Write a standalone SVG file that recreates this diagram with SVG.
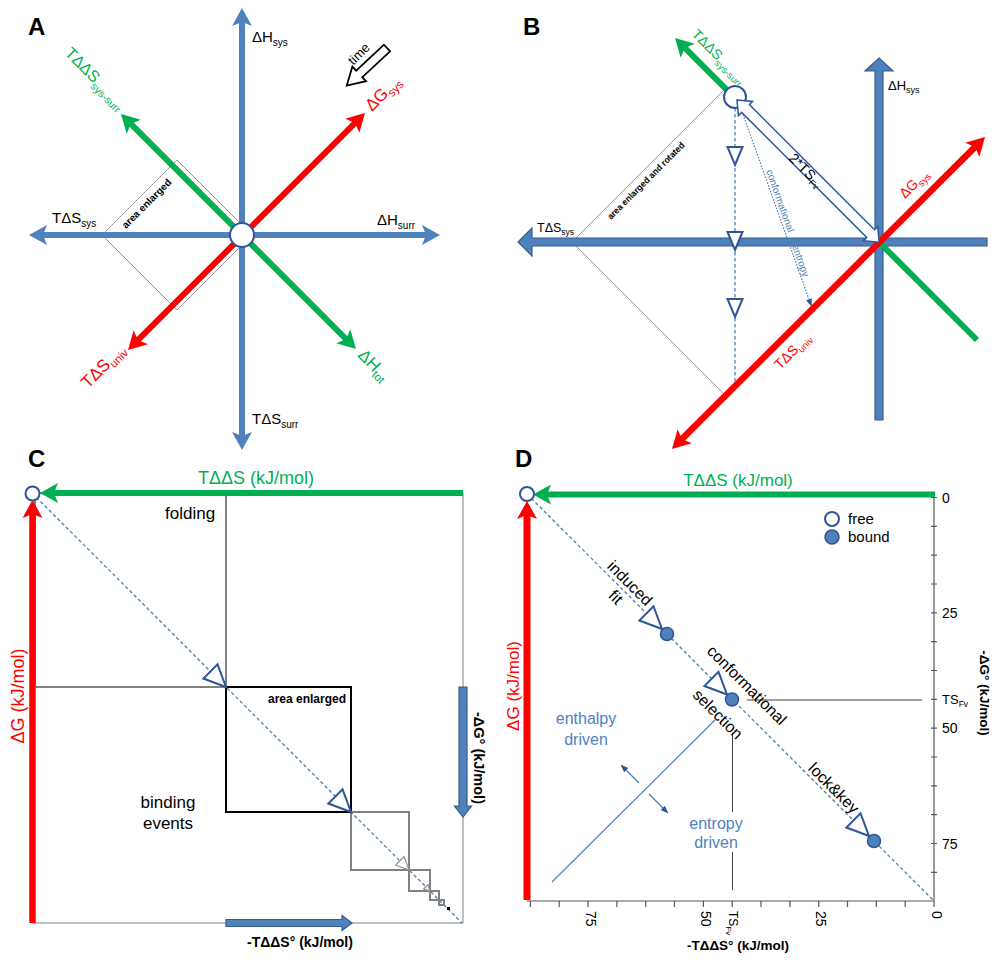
<svg xmlns="http://www.w3.org/2000/svg" width="1000" height="965" viewBox="0 0 1000 965">
<defs>
<style>
text{font-family:"Liberation Sans",Arial,sans-serif;fill:#000}
.lbl{font-size:24px;font-weight:bold}
.bold{font-weight:bold}
.gt{fill:#00B050}
.rt{fill:#FF0000}
.bt{fill:#4F81BD}
.frame{fill:none;stroke:#808080;stroke-width:1}
.thin{fill:none;stroke:#808080;stroke-width:0.8}
.dash{fill:none;stroke:#4A7EBB;stroke-width:1.3;stroke-dasharray:3.5 2.5}
.tri{fill:#fff;stroke:#2F5597;stroke-width:2;stroke-linejoin:miter}
.trig{fill:#fff;stroke:#909090;stroke-width:1.2}
.circ{fill:#fff;stroke:#2F5597;stroke-width:2}
.bound{fill:#4F81BD;stroke:#2F5597;stroke-width:1.5}
.blk{fill:#4F81BD;stroke:#385D8A;stroke-width:1.2}
.grect{fill:none;stroke:#808080;stroke-width:2}
.axl{fill:none;stroke:#595959;stroke-width:1.2}
.bline{fill:none;stroke:#4F81BD;stroke-width:1.2}
</style>
<marker id="mb" viewBox="0 -11 20 22" markerWidth="20" markerHeight="22" refX="4" refY="0" orient="auto-start-reverse" markerUnits="userSpaceOnUse"><path d="M0,-10 L18,0 L0,10 L4,0 Z" fill="#4F81BD"/></marker>
<marker id="mg" viewBox="0 -11 20 22" markerWidth="20" markerHeight="22" refX="4" refY="0" orient="auto-start-reverse" markerUnits="userSpaceOnUse"><path d="M0,-10 L18,0 L0,10 L4,0 Z" fill="#00B050"/></marker>
<marker id="mr" viewBox="0 -11 20 22" markerWidth="20" markerHeight="22" refX="4" refY="0" orient="auto-start-reverse" markerUnits="userSpaceOnUse"><path d="M0,-10 L18,0 L0,10 L4,0 Z" fill="#FF0000"/></marker>
<marker id="ms" viewBox="0 -4 8 8" markerWidth="8" markerHeight="8" refX="6" refY="0" orient="auto" markerUnits="userSpaceOnUse"><path d="M0,-3 L8,0 L0,3 Z" fill="#2F5597"/></marker>
<polygon id="triL" points="0,0 -22,-10 -22,10"/>
<polygon id="triV" points="0,0 -18,-7.5 -18,7.5"/>
<polygon id="triM" points="0,0 -13,-6 -13,6"/>
<polygon id="triS" points="0,0 -6,-3 -6,3"/>
</defs>
<rect width="1000" height="965" fill="#fff"/>

<g id="panelA">
<text class="lbl" x="28" y="35">A</text>
<polygon class="thin" points="102,235 177,160 252,235 177,310"/>
<g id="connectorsA">
<line x1="355.1" y1="122.9" x2="137.9" y2="340.1" stroke="#FF0000" stroke-width="6" marker-start="url(#mr)" marker-end="url(#mr)"/>
<line x1="130.9" y1="123.9" x2="346.1" y2="339.1" stroke="#00B050" stroke-width="6" marker-start="url(#mg)" marker-end="url(#mg)"/>
<line x1="43" y1="235" x2="426" y2="235" stroke="#4F81BD" stroke-width="6" marker-start="url(#mb)" marker-end="url(#mb)"/>
<line x1="242" y1="22" x2="242" y2="436" stroke="#4F81BD" stroke-width="6" marker-start="url(#mb)" marker-end="url(#mb)"/>
</g>
<circle id="nodeA" cx="242" cy="235" r="12" class="circ"/>
<polygon points="0,-4.5 38,-4.5 38,-10 55,0 38,10 38,4.5 0,4.5" transform="translate(387,48) rotate(137)" fill="#fff" stroke="#000" stroke-width="1.8"/>
<text font-size="13" text-anchor="middle" transform="translate(362,57) rotate(-45)">time</text>
<text x="252" y="42" font-size="15">ΔH<tspan font-size="10" dy="4">sys</tspan></text>
<text x="52" y="223" font-size="15">TΔS<tspan font-size="10" dy="4">sys</tspan></text>
<text x="377" y="225" font-size="15">ΔH<tspan font-size="10" dy="4">surr</tspan></text>
<text x="252" y="424" font-size="15">TΔS<tspan font-size="10" dy="4">surr</tspan></text>
<text class="gt" font-size="16" transform="translate(64,54) rotate(45)">TΔΔS<tspan font-size="10.5" dy="5">sys-surr</tspan></text>
<text class="rt" font-size="17" transform="translate(372,112) rotate(-45)">ΔG<tspan font-size="11.5" dy="4">sys</tspan></text>
<text class="rt" font-size="17" transform="translate(88,389) rotate(-45)">TΔS<tspan font-size="11.5" dy="4">univ</tspan></text>
<text class="gt" font-size="17" transform="translate(357,356) rotate(45)">ΔH<tspan font-size="11.5" dy="4">tot</tspan></text>
<text class="bold" font-size="10" text-anchor="middle" transform="translate(149,206) rotate(-45)">area enlarged</text>
</g>

<g id="panelB">
<text class="lbl" x="523" y="35">B</text>
<polygon class="thin" points="572,242 726,88 880,242 726,396"/>
<g id="connectorsB">
<polygon class="blk" points="518,242 532,228 532,238 987,238 987,246 532,246 532,256"/>
<polygon class="blk" points="879,58 893,71 883,71 883,420 875,420 875,71 865,71"/>
<line x1="977" y1="340" x2="684.9" y2="47.9" stroke="#00B050" stroke-width="6" marker-end="url(#mg)"/>
<line x1="681.9" y1="439.1" x2="975.1" y2="146.9" stroke="#FF0000" stroke-width="6.5" marker-start="url(#mr)" marker-end="url(#mr)"/>
<line x1="735" y1="108" x2="735" y2="382" class="dash"/>
<line x1="740" y1="106" x2="811" y2="305" stroke="#4A7EBB" stroke-width="1.2" stroke-dasharray="1.5 1.5" marker-end="url(#ms)"/>
</g>
<use href="#triV" class="tri" transform="translate(735,165) rotate(90)"/>
<use href="#triV" class="tri" transform="translate(735,250) rotate(90)"/>
<use href="#triV" class="tri" transform="translate(735,317) rotate(90)"/>
<circle id="nodeB" cx="735" cy="97" r="11" class="circ"/>
<polygon points="0,0 12,-10 12,-5.5 189,-5.5 189,-10 201,0 189,10 189,5.5 12,5.5 12,10" transform="translate(737,100) rotate(45)" fill="#fff" stroke="#2F5597" stroke-width="1.5"/>
<text font-size="14" transform="translate(788,159) rotate(45)">2*TS<tspan font-size="9" dy="3">Fv</tspan></text>
<text class="bt" font-size="10" transform="translate(766,171) rotate(70.5)">conformational</text>
<text class="bt" font-size="10" transform="translate(792,246) rotate(70.5)">entropy</text>
<text x="888" y="90" font-size="13">ΔH<tspan font-size="9" dy="3">sys</tspan></text>
<text x="537" y="232" font-size="12.5">TΔS<tspan font-size="8.5" dy="3">sys</tspan></text>
<text class="gt" font-size="14" transform="translate(691,35) rotate(45)">TΔΔS<tspan font-size="9.5" dy="4">sys-surr</tspan></text>
<text class="rt" font-size="14" transform="translate(905,199) rotate(-45)">ΔG<tspan font-size="9.5" dy="3.5">sys</tspan></text>
<text class="rt" font-size="14" transform="translate(780,370) rotate(-45)">TΔS<tspan font-size="9.5" dy="3.5">univ</tspan></text>
<text class="bold" font-size="9" text-anchor="middle" textLength="105" lengthAdjust="spacingAndGlyphs" transform="translate(648,183) rotate(-45)">area enlarged and rotated</text>
</g>

<g id="panelC">
<text class="lbl" x="28" y="467">C</text>
<polyline class="frame" points="32,493 463,493 463,923 32,923"/>
<line x1="32" y1="493" x2="462" y2="923" class="dash"/>
<rect class="grect" x="35" y="493" width="191" height="194"/>
<rect x="226" y="687" width="125" height="125" fill="none" stroke="#000" stroke-width="2"/>
<rect class="grect" x="351" y="812" width="58" height="58"/>
<rect class="grect" x="409" y="870" width="21" height="21"/>
<rect class="grect" x="430" y="891" width="9" height="9" stroke-width="1.6"/>
<rect class="grect" x="439" y="900" width="5" height="5" stroke-width="1.4"/>
<rect x="447" y="907" width="3" height="3" fill="#000"/>
<use href="#triL" class="tri" transform="translate(226,687) rotate(45)"/>
<use href="#triL" class="tri" transform="translate(351,812) rotate(45)"/>
<use href="#triM" class="trig" transform="translate(409,870) rotate(45)"/>
<use href="#triS" class="trig" transform="translate(430,891) rotate(45)"/>
<g id="connectorsC">
<line x1="463" y1="493" x2="54" y2="493" stroke="#00B050" stroke-width="6" marker-end="url(#mg)"/>
<line x1="32.5" y1="923" x2="32.5" y2="514" stroke="#FF0000" stroke-width="6.5" marker-end="url(#mr)"/>
<polygon class="blk" points="459,687 467,687 467,806 471.5,806 463,817 454.5,806 459,806"/>
<polygon class="blk" points="226,919.5 342,919.5 342,915.5 352,923 342,930.5 342,926.5 226,926.5"/>
</g>
<circle id="nodeC" cx="32.5" cy="493.5" r="7" class="circ"/>
<text class="gt" x="198" y="484" font-size="18">TΔΔS (kJ/mol)</text>
<text x="165" y="519" font-size="17">folding</text>
<text class="bold" x="268" y="703" font-size="12">area enlarged</text>
<text x="168" y="808" font-size="17" text-anchor="middle">binding</text>
<text x="168" y="829" font-size="17" text-anchor="middle">events</text>
<text class="rt" font-size="18" text-anchor="middle" transform="translate(24,696) rotate(-90)">ΔG (kJ/mol)</text>
<text class="bold" font-size="14.5" text-anchor="middle" transform="translate(474,758) rotate(90)">-ΔG° (kJ/mol)</text>
<text class="bold" font-size="14" x="247" y="947">-TΔΔS° (kJ/mol)</text>
</g>

<g id="panelD">
<text class="lbl" x="515" y="467">D</text>
<polyline class="axl" points="934,494 934,901 527,901"/>
<path class="axl" stroke-width="1" d="M931,497.5h6M931,526.3h6M931,555.2h6M931,584h6M931,612.8h6M931,641.7h6M931,670.5h6M931,699.3h6M931,728.1h6M931,757h6M931,785.8h6M931,814.6h6M931,843.5h6M931,872.3h6
M934,901v6M905.2,901v6M876.3,901v6M847.5,901v6M818.7,901v6M789.9,901v6M761,901v6M732.2,901v6M703.4,901v6M674.5,901v6M645.7,901v6M616.9,901v6M588,901v6M559.2,901v6M530.4,901v6"/>
<text x="942" y="502.5" font-size="14">0</text>
<text x="942" y="618" font-size="14">25</text>
<text x="942" y="704" font-size="13">TS<tspan font-size="8.5" dy="3">Fv</tspan></text>
<text x="942" y="733" font-size="14">50</text>
<text x="942" y="848.5" font-size="14">75</text>
<text font-size="14" transform="translate(931.5,911) rotate(90)">0</text>
<text font-size="14" transform="translate(816.2,911) rotate(90)">25</text>
<text font-size="14" transform="translate(700.9,911) rotate(90)">50</text>
<text font-size="14" transform="translate(585.5,911) rotate(90)">75</text>
<text font-size="12" transform="translate(728.5,911) rotate(90)">TS<tspan font-size="8" dy="3">Fv</tspan></text>
<line x1="527" y1="494" x2="934" y2="901" class="dash"/>
<line x1="747" y1="700" x2="922" y2="700" stroke="#404040" stroke-width="1"/>
<line x1="732.5" y1="733" x2="732.5" y2="812" stroke="#404040" stroke-width="1"/>
<line x1="732.5" y1="852" x2="732.5" y2="890" stroke="#404040" stroke-width="1"/>
<line x1="552" y1="882" x2="715" y2="720" class="bline"/>
<line x1="639" y1="783" x2="622" y2="766" class="bline" marker-end="url(#ms)"/>
<line x1="649" y1="794" x2="667" y2="812" class="bline" marker-end="url(#ms)"/>
<g id="connectorsD">
<line x1="935" y1="494.5" x2="547" y2="494.5" stroke="#00B050" stroke-width="6" marker-end="url(#mg)"/>
<line x1="527" y1="900" x2="527" y2="515" stroke="#FF0000" stroke-width="7" marker-end="url(#mr)"/>
</g>
<use href="#triL" class="tri" transform="translate(662,629) rotate(45)"/>
<use href="#triL" class="tri" transform="translate(727,694.5) rotate(45)"/>
<use href="#triL" class="tri" transform="translate(869,836) rotate(45)"/>
<circle id="nodeFree" cx="527" cy="494" r="7" class="circ"/>
<circle id="nodeInduced" cx="667" cy="634" r="6.5" class="bound"/>
<circle id="nodeSelection" cx="732" cy="699.5" r="6.5" class="bound"/>
<circle id="nodeLock" cx="874" cy="841" r="6.5" class="bound"/>
<g id="legend">
<circle cx="832" cy="519" r="7" class="circ"/>
<circle cx="832" cy="537" r="7" class="bound"/>
<text x="848" y="524" font-size="15">free</text>
<text x="848" y="542" font-size="15">bound</text>
</g>
<text class="gt" x="738" y="486" font-size="17" text-anchor="middle">TΔΔS (kJ/mol)</text>
<text class="rt" font-size="17" text-anchor="middle" transform="translate(519,686) rotate(-90)">ΔG (kJ/mol)</text>
<text class="bold" font-size="13.5" text-anchor="middle" transform="translate(980,693) rotate(90)">-ΔG° (kJ/mol)</text>
<text class="bold" font-size="13.5" x="738" y="950" text-anchor="middle">-TΔΔS° (kJ/mol)</text>
<text font-size="16" text-anchor="middle" transform="translate(626,587) rotate(45)">induced</text>
<text font-size="16" text-anchor="middle" transform="translate(612,601) rotate(45)">fit</text>
<text font-size="16" text-anchor="middle" transform="translate(743,689) rotate(45)">conformational</text>
<text font-size="16" text-anchor="middle" transform="translate(714,718) rotate(45)">selection</text>
<text font-size="16" text-anchor="middle" transform="translate(830,792) rotate(45)">lock&amp;key</text>
<text class="bt" font-size="16" x="586" y="724" text-anchor="middle">enthalpy</text>
<text class="bt" font-size="16" x="586" y="745" text-anchor="middle">driven</text>
<text class="bt" font-size="16" x="716" y="829" text-anchor="middle">entropy</text>
<text class="bt" font-size="16" x="716" y="848" text-anchor="middle">driven</text>
</g>
</svg>
